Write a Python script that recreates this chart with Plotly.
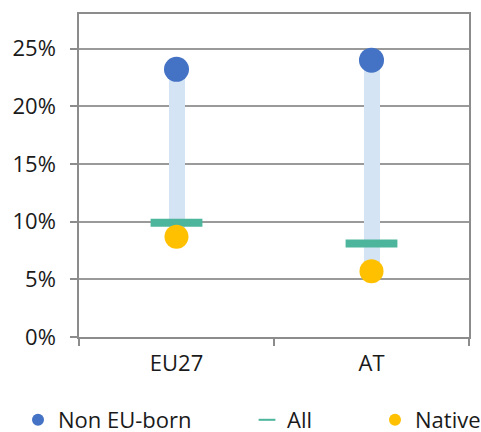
import plotly.graph_objects as go

categories = ["EU27", "AT"]
non_eu_born = [0.232, 0.240]
all_people = [0.099, 0.081]
native = [0.087, 0.057]

FONT = "Open Sans"
GRID = "#9a9a9a"
FRAME = "#8c8c8c"
W, H = 481, 432

fig = go.Figure()

# light range bar from native to non EU-born
fig.add_trace(go.Bar(
    x=categories,
    y=[n - b for n, b in zip(non_eu_born, native)],
    base=native,
    width=0.082,
    marker=dict(color="#D5E4F4", line=dict(width=0)),
    showlegend=False,
    hoverinfo="skip",
))

fig.add_trace(go.Scatter(
    x=categories, y=non_eu_born, mode="markers", name="Non EU-born",
    marker=dict(color="#4472C4", size=25, line=dict(width=0)),
    legend="legend",
))
fig.add_trace(go.Scatter(
    x=categories, y=all_people, mode="markers", name="All",
    marker=dict(symbol="line-ew", size=37, color="#4CB59B",
                line=dict(color="#4CB59B", width=8)),
    legend="legend2",
))
fig.add_trace(go.Scatter(
    x=categories, y=native, mode="markers", name="Native",
    marker=dict(color="#FFC000", size=24, line=dict(width=0)),
    legend="legend3",
))

leg_common = dict(
    orientation="h", yref="container", xref="container",
    yanchor="middle", y=(H - 420) / H, xanchor="left",
    font=dict(family=FONT, size=22, color="#1a1a1a"),
    bgcolor="rgba(0,0,0,0)", itemsizing="constant",
)

tick_font = dict(family=FONT, size=22, color="#1a1a1a")

fig.update_layout(
    width=W, height=H,
    margin=dict(l=79, r=12, t=14, b=95, autoexpand=False),
    paper_bgcolor="white", plot_bgcolor="white",
    font=tick_font,
    bargap=0,
    legend=dict(x=18 / W, **leg_common),
    legend2=dict(x=247 / W, **leg_common),
    legend3=dict(x=375 / W, **leg_common),
    xaxis=dict(
        type="category", showline=True, linecolor=FRAME, linewidth=1.5,
        mirror=True, ticks="outside", tickson="boundaries", ticklen=7,
        tickcolor=FRAME, tickwidth=1.5, showgrid=False,
        tickfont=tick_font, ticklabelstandoff=6,
    ),
    yaxis=dict(
        range=[0, 0.28], dtick=0.05, tickformat=".0%", showline=True,
        linecolor=FRAME, linewidth=1.5, mirror=True, ticks="outside",
        ticklen=7, tickcolor=FRAME, tickwidth=1.5, showgrid=True,
        gridcolor=GRID, gridwidth=1.5, zeroline=False,
        tickfont=tick_font, ticklabelstandoff=10,
    ),
)

fig.write_html("out.html")
